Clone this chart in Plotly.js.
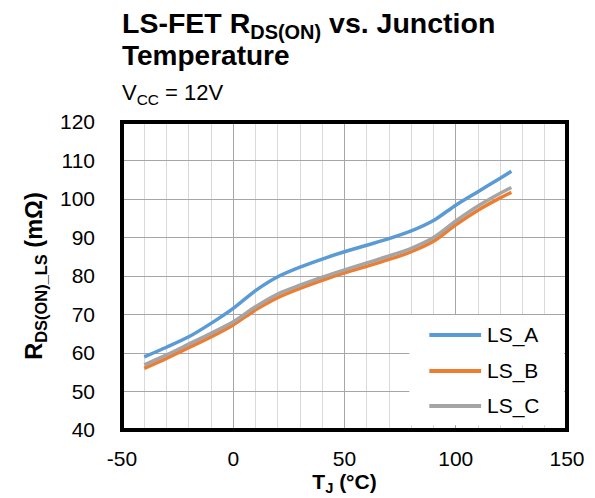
<!DOCTYPE html>
<html>
<head>
<meta charset="utf-8">
<script src="https://cdn.plot.ly/plotly-3.0.1.min.js"></script>
<style>html,body{margin:0;padding:0;background:#fff;}#chart{width:595px;height:498px;}</style>
</head>
<body>
<div id="chart"></div>
<script>
const temperature = [-40,-30,-20,-10,0,10,20,30,40,50,60,70,80,90,100,110,120,125];
const lsA = [59.0,61.5,64.2,67.7,71.6,76.2,79.8,82.3,84.4,86.3,88.0,89.7,91.7,94.4,98.4,101.9,105.4,107.2];
const lsB = [56.0,58.6,61.4,64.2,67.3,71.2,74.4,76.8,78.9,80.8,82.5,84.3,86.3,89.0,93.3,97.1,100.3,101.7];
const lsC = [56.9,59.5,62.3,65.1,68.1,72.0,75.3,77.6,79.7,81.6,83.4,85.2,87.2,90.0,94.3,98.2,101.5,103.0];
const seriesNames = ['LS_A','LS_B','LS_C'];
const seriesColors = ['#5B9BD5','#ED7D31','#A5A5A5'];
const xTickVals = [-50,0,50,100,150];
const xTickText = ['-50','0','50','100','150'];
const yTickVals = [40,50,60,70,80,90,100,110,120];

const FONT = 'Liberation Sans, Arial, sans-serif';
const seriesData = [lsA, lsB, lsC];
const traces = seriesData.map((ys, i) => ({
  x: temperature, y: ys, type: 'scatter', mode: 'lines', name: seriesNames[i],
  line: {color: seriesColors[i], width: 3.5, shape: 'spline', smoothing: 0.8},
  showlegend: false, hoverinfo: 'skip'
}));

// custom legend (white box, long line samples, labels)
const legRowsY = [0.3084, 0.1916, 0.0779];
const shapes = [{type:'rect', xref:'paper', yref:'paper', x0:0.6457, x1:0.9933, y0:0.0162, y1:0.373,
  fillcolor:'#ffffff', line:{width:0}, layer:'above'}];
const annotations = [];
seriesNames.forEach((nm, i) => {
  shapes.push({type:'line', xref:'paper', yref:'paper', x0:0.6906, x1:0.807, y0:legRowsY[i], y1:legRowsY[i],
    line:{color:seriesColors[i], width:4}, layer:'above'});
  annotations.push({xref:'paper', yref:'paper', x:0.815, y:legRowsY[i], xanchor:'left', yanchor:'middle',
    text:nm, showarrow:false, font:{family:FONT, size:21, color:'#000'}});
});
// frame
shapes.push({type:'rect', xref:'paper', yref:'paper', x0:0, x1:1, y0:0, y1:1, line:{color:'#000', width:4}, layer:'above'});

annotations.push({xref:'paper', yref:'paper', x:-0.005, y:1.316, xanchor:'left', yanchor:'middle', showarrow:false,
  text:'<b>LS-FET R<sub>DS(ON)</sub> vs. Junction</b>', font:{family:FONT, size:28.5, color:'#000'}});
annotations.push({xref:'paper', yref:'paper', x:-0.005, y:1.2145, xanchor:'left', yanchor:'middle', showarrow:false,
  text:'<b>Temperature</b>', font:{family:FONT, size:28, color:'#000'}});
annotations.push({xref:'paper', yref:'paper', x:-0.005, y:1.09, xanchor:'left', yanchor:'middle', showarrow:false,
  text:'V<sub>CC</sub> = 12V', font:{family:FONT, size:22, color:'#000'}});

const layout = {
  width: 595, height: 498,
  margin: {l:122, r:28, t:122, b:68},
  paper_bgcolor:'#fff', plot_bgcolor:'#fff',
  font: {family: FONT, color:'#000'},
  xaxis: {
    range:[-50,150], tickvals:xTickVals, ticktext:xTickText, ticks:'', ticklabelstandoff:14,
    tickfont:{size:21, family:FONT}, showgrid:true, gridcolor:'#a6a6a6', gridwidth:1,
    minor:{dtick:10, showgrid:true, gridcolor:'#d9d9d9', gridwidth:1},
    zeroline:false, showline:false, fixedrange:true,
    title:{text:'<b>T<sub>J</sub> (°C)</b>', font:{size:21, family:FONT}, standoff:2}
  },
  yaxis: {
    range:[40,120], tickvals:yTickVals, ticks:'', ticklabelstandoff:26,
    tickfont:{size:21, family:FONT}, showgrid:true, gridcolor:'#a6a6a6', gridwidth:1,
    zeroline:false, showline:false, fixedrange:true,
    title:{text:'<b>R<sub>DS(ON)_LS</sub> (mΩ)</b>', font:{size:23.5, family:FONT}, standoff:10}
  },
  shapes: shapes, annotations: annotations, showlegend:false
};
Plotly.newPlot('chart', traces, layout, {displayModeBar:false, staticPlot:true});
</script>
</body>
</html>
